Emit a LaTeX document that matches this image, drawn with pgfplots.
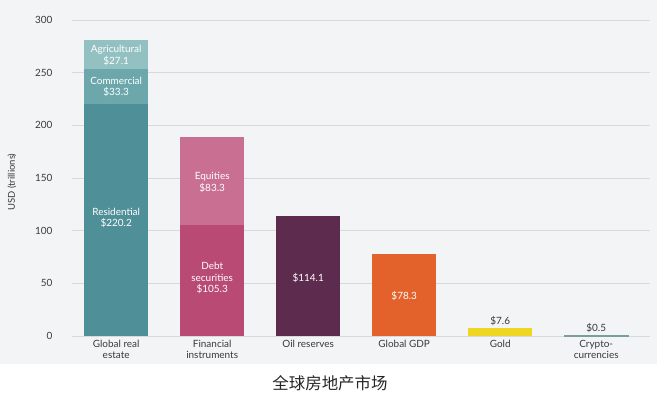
\documentclass[border=0pt]{standalone}
\usepackage{fontspec}
\setmainfont{Lato}
\newfontfamily\cjk{Noto Sans CJK SC}
\usepackage{pgfplots}
\pgfplotsset{compat=1.18}
\definecolor{bgc}{HTML}{F3F4F6}
\definecolor{gridc}{HTML}{D8D9DC}
\definecolor{resc}{HTML}{4F8F98}
\definecolor{comc}{HTML}{6BA7AB}
\definecolor{agrc}{HTML}{93C0C1}
\definecolor{debc}{HTML}{B84A74}
\definecolor{equc}{HTML}{C96F91}
\definecolor{oilc}{HTML}{5D2B4D}
\definecolor{gdpc}{HTML}{E3622B}
\definecolor{golc}{HTML}{EFD622}
\definecolor{cryc}{HTML}{7A9E9C}
\definecolor{txtc}{HTML}{3A3A3A}
\tikzset{lab/.style={font=\fontsize{10}{11.5}\selectfont, align=center, text=white}}
\pgfplotsset{mybar/.style={ybar, bar width=64bp, bar shift=0pt, draw=none}}
\begin{document}
\begin{tikzpicture}
\fill[bgc] (-72bp,-28bp) rectangle (585bp,336bp);
\path (-72bp,-56bp) rectangle (589bp,336bp);
\begin{axis}[
  at={(0,0)}, anchor=south west,
  scale only axis, width=578bp, height=316bp,
  xmin=-0.46, xmax=5.56, ymin=0, ymax=300,
  axis line style={draw=none}, major tick length=0pt,
  ymajorgrids, grid style={color=gridc, line width=0.9pt},
  ytick={0,50,...,300},
  xtick={0,...,5},
  xticklabels={{Global real\\estate},{Financial\\instruments},{Oil reserves},{Global GDP},{Gold},{Crypto-\\currencies}},
  xticklabel style={align=center, font=\fontsize{10}{11.5}\selectfont, text=txtc, yshift=-0.5bp},
  yticklabel style={font=\fontsize{10}{11}\selectfont, text=txtc, xshift=-16bp},
  /pgf/number format/assume math mode=true,
  clip=false,
]
\addplot[mybar, fill=agrc] coordinates {(0,280.6)};
\addplot[mybar, fill=comc] coordinates {(0,253.5)};
\addplot[mybar, fill=resc] coordinates {(0,220.2)};
\addplot[mybar, fill=equc] coordinates {(1,188.6)};
\addplot[mybar, fill=debc] coordinates {(1,105.3)};
\addplot[mybar, fill=oilc] coordinates {(2,114.1)};
\addplot[mybar, fill=gdpc] coordinates {(3,78.3)};
\addplot[mybar, fill=golc] coordinates {(4,7.6)};
\addplot[mybar, fill=cryc, draw=cryc, line width=1pt] coordinates {(5,0.5)};
\node[lab] at (axis cs:0,112) {Residential\\\$220.2};
\node[lab] at (axis cs:0,236.5) {Commercial\\\$33.3};
\node[lab] at (axis cs:0,266.5) {Agricultural\\\$27.1};
\node[lab] at (axis cs:1,146) {Equities\\\$83.3};
\node[lab] at (axis cs:1,55) {Debt\\securities\\\$105.3};
\node[lab] at (axis cs:2,55) {\$114.1};
\node[lab] at (axis cs:3,38) {\$78.3};
\node[lab, text=txtc] at (axis cs:4,14.5) {\$7.6};
\node[lab, text=txtc] at (axis cs:5,7.8) {\$0.5};
\end{axis}
\node[rotate=90, font=\fontsize{9.5}{10}\selectfont, text=txtc] at (-60bp,154bp) {USD (trillions)};
\node[font=\cjk\fontsize{16.5}{18}\selectfont, text=black!85] at (258bp,-47bp) {全球房地产市场};
\end{tikzpicture}
\end{document}
